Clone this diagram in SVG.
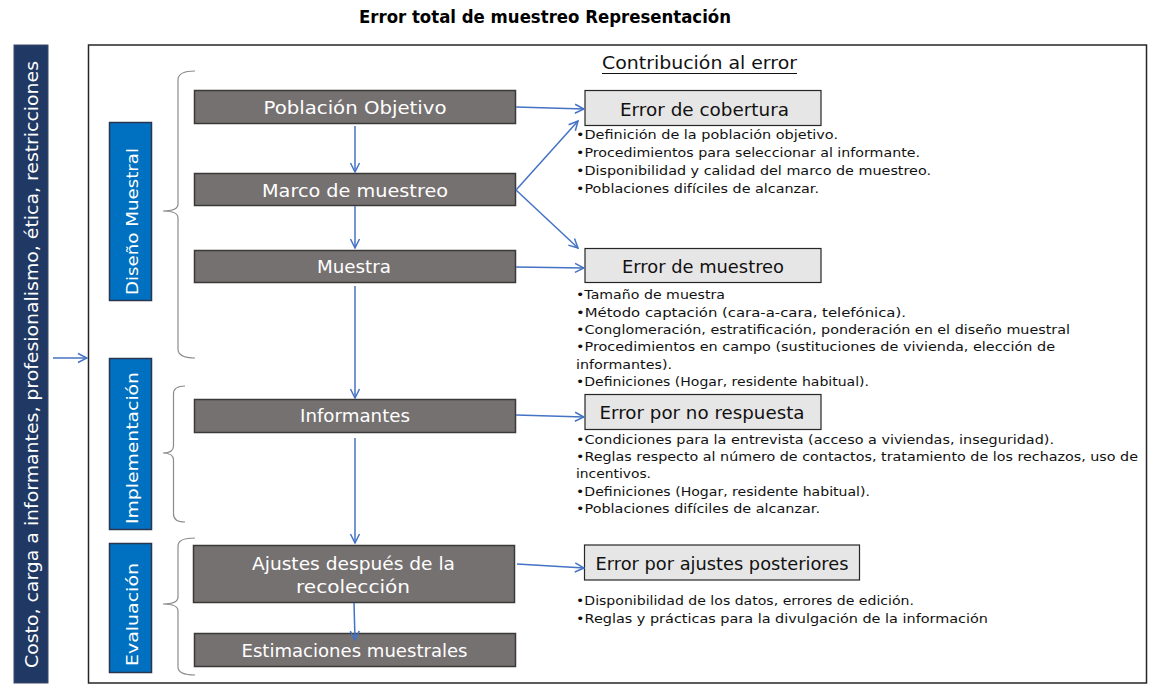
<svg xmlns="http://www.w3.org/2000/svg" width="1157" height="695" viewBox="0 0 1157 695">
<style>
.t{font-family:"DejaVu Sans","Liberation Sans",sans-serif}
.node rect{fill:#767171;stroke:#3b3838;stroke-width:1.5}
.node text{fill:#ffffff;font-size:18px;text-anchor:middle}
.err rect{fill:#e7e6e6;stroke:#262626;stroke-width:1.2}
.err text{fill:#111111;font-size:18px;text-anchor:middle}
.phase rect{fill:#0070c0;stroke:#2a3550;stroke-width:1.5}
.phase text{fill:#ffffff;font-size:16px}
.bl{fill:#111111;font-size:12.5px}
.brace{fill:none;stroke:#8c8c8c;stroke-width:1.2}
.conn path{fill:none;stroke:#4472c4;stroke-width:1.5;marker-end:url(#ah)}
</style>
<defs>
<marker id="ah" markerUnits="userSpaceOnUse" markerWidth="12" markerHeight="12" viewBox="0 0 12 12" refX="11" refY="6" orient="auto">
<path d="M2,1.5 L11,6 L2,10.5" fill="none" stroke="#4472c4" stroke-width="1.5"/>
</marker>
</defs>
<rect x="0" y="0" width="1157" height="695" fill="#ffffff"/>
<text class="t" x="545" y="23" font-size="17" font-weight="bold" text-anchor="middle" fill="#000" textLength="372" lengthAdjust="spacingAndGlyphs">Error total de muestreo Representación</text>

<g id="restricciones">
<rect x="14" y="45" width="34" height="638" fill="#203864" stroke="#3a4a6a" stroke-width="1"/>
<text class="t" transform="translate(38,668) rotate(-90)" x="0" y="0" font-size="18" fill="#ffffff" textLength="607" lengthAdjust="spacingAndGlyphs">Costo, carga a informantes, profesionalismo, ética, restricciones</text>
</g>

<rect id="marco-general" x="88.5" y="45" width="1058" height="638" fill="#ffffff" stroke="#262626" stroke-width="1.5"/>

<g id="contribucion">
<text class="t" x="602" y="69" font-size="17" fill="#111" textLength="195" lengthAdjust="spacingAndGlyphs">Contribución al error</text>
<line x1="602" y1="73.5" x2="797" y2="73.5" stroke="#111" stroke-width="1"/>
</g>

<g id="fase-diseno" class="phase">
<rect x="109.5" y="122.5" width="42" height="178"/>
<text class="t" transform="translate(138,295) rotate(-90)" textLength="147" lengthAdjust="spacingAndGlyphs">Diseño Muestral</text>
</g>
<g id="fase-implementacion" class="phase">
<rect x="109.5" y="358.5" width="42" height="171"/>
<text class="t" transform="translate(138,524) rotate(-90)" textLength="152" lengthAdjust="spacingAndGlyphs">Implementación</text>
</g>
<g id="fase-evaluacion" class="phase">
<rect x="109.5" y="543.5" width="42" height="129"/>
<text class="t" transform="translate(138,666) rotate(-90)" textLength="103" lengthAdjust="spacingAndGlyphs">Evaluación</text>
</g>

<g id="llaves">
<path class="brace" d="M195,71 Q178,71 178,80 L178,204 Q178,211 163,211 Q178,211 178,218 L178,349 Q178,358 195,358"/>
<path class="brace" d="M185,386 Q173.5,386 173.5,394 L173.5,446 Q173.5,453 163,453 Q173.5,453 173.5,460 L173.5,514 Q173.5,522 185,522"/>
<path class="brace" d="M195,538 Q178,538 178,546 L178,597 Q178,604 163,604 Q178,604 178,611 L178,667 Q178,675 195,675"/>
</g>

<g id="poblacion-objetivo" class="node">
<rect x="194.5" y="90.5" width="321" height="33"/>
<text class="t" x="355" y="114" textLength="183" lengthAdjust="spacingAndGlyphs">Población Objetivo</text>
</g>
<g id="marco-muestreo" class="node">
<rect x="194.5" y="173.5" width="321" height="32"/>
<text class="t" x="355" y="197" textLength="186" lengthAdjust="spacingAndGlyphs">Marco de muestreo</text>
</g>
<g id="muestra" class="node">
<rect x="194.5" y="250.5" width="321" height="32"/>
<text class="t" x="354" y="273" textLength="74" lengthAdjust="spacingAndGlyphs">Muestra</text>
</g>
<g id="informantes" class="node">
<rect x="194.5" y="399.5" width="321" height="33"/>
<text class="t" x="355" y="422" textLength="110" lengthAdjust="spacingAndGlyphs">Informantes</text>
</g>
<g id="ajustes" class="node">
<rect x="193.5" y="545.5" width="321" height="57"/>
<text class="t" x="353.5" y="570" textLength="203" lengthAdjust="spacingAndGlyphs">Ajustes después de la</text>
<text class="t" x="353" y="593" textLength="114" lengthAdjust="spacingAndGlyphs">recolección</text>
</g>
<g id="estimaciones" class="node">
<rect x="194.5" y="633.5" width="321" height="33"/>
<text class="t" x="354.5" y="657" textLength="226" lengthAdjust="spacingAndGlyphs">Estimaciones muestrales</text>
</g>

<g id="error-cobertura" class="err">
<rect x="585" y="90.5" width="236" height="35"/>
<text class="t" x="704.5" y="116" textLength="169" lengthAdjust="spacingAndGlyphs">Error de cobertura</text>
</g>
<g id="error-muestreo" class="err">
<rect x="585" y="248.5" width="236" height="34"/>
<text class="t" x="703" y="273" textLength="162" lengthAdjust="spacingAndGlyphs">Error de muestreo</text>
</g>
<g id="error-no-respuesta" class="err">
<rect x="585" y="394.5" width="236" height="35"/>
<text class="t" x="702" y="419" textLength="205" lengthAdjust="spacingAndGlyphs">Error por no respuesta</text>
</g>
<g id="error-ajustes" class="err">
<rect x="584.5" y="545" width="275" height="35"/>
<text class="t" x="722" y="570" textLength="253" lengthAdjust="spacingAndGlyphs">Error por ajustes posteriores</text>
</g>

<g id="notas">
<text class="t bl" x="576" y="139" textLength="262" lengthAdjust="spacingAndGlyphs">•Definición de la población objetivo.</text>
<text class="t bl" x="576" y="157" textLength="344" lengthAdjust="spacingAndGlyphs">•Procedimientos para seleccionar al informante.</text>
<text class="t bl" x="576" y="175" textLength="355" lengthAdjust="spacingAndGlyphs">•Disponibilidad y calidad del marco de muestreo.</text>
<text class="t bl" x="576" y="193" textLength="243" lengthAdjust="spacingAndGlyphs">•Poblaciones difíciles de alcanzar.</text>

<text class="t bl" x="576" y="298.5" textLength="149" lengthAdjust="spacingAndGlyphs">•Tamaño de muestra</text>
<text class="t bl" x="576" y="316.5" textLength="330" lengthAdjust="spacingAndGlyphs">•Método captación (cara-a-cara, telefónica).</text>
<text class="t bl" x="576" y="333.5" textLength="494" lengthAdjust="spacingAndGlyphs">•Conglomeración, estratificación, ponderación en el diseño muestral</text>
<text class="t bl" x="576" y="351" textLength="479" lengthAdjust="spacingAndGlyphs">•Procedimientos en campo (sustituciones de vivienda, elección de</text>
<text class="t bl" x="576" y="368.5" textLength="96" lengthAdjust="spacingAndGlyphs">informantes).</text>
<text class="t bl" x="576" y="386" textLength="293" lengthAdjust="spacingAndGlyphs">•Definiciones (Hogar, residente habitual).</text>

<text class="t bl" x="576" y="444" textLength="478" lengthAdjust="spacingAndGlyphs">•Condiciones para la entrevista (acceso a viviendas, inseguridad).</text>
<text class="t bl" x="576" y="461" textLength="562" lengthAdjust="spacingAndGlyphs">•Reglas respecto al número de contactos, tratamiento de los rechazos, uso de</text>
<text class="t bl" x="576" y="478" textLength="75" lengthAdjust="spacingAndGlyphs">incentivos.</text>
<text class="t bl" x="576" y="495.5" textLength="294" lengthAdjust="spacingAndGlyphs">•Definiciones (Hogar, residente habitual).</text>
<text class="t bl" x="576" y="513" textLength="244" lengthAdjust="spacingAndGlyphs">•Poblaciones difíciles de alcanzar.</text>

<text class="t bl" x="576" y="605" textLength="338" lengthAdjust="spacingAndGlyphs">•Disponibilidad de los datos, errores de edición.</text>
<text class="t bl" x="576" y="622.5" textLength="412" lengthAdjust="spacingAndGlyphs">•Reglas y prácticas para la divulgación de la información</text>
</g>

<g id="conectores" class="conn">
<path d="M53,358 L87,358"/>
<path d="M355,126 L355,172"/>
<path d="M355,206 L355,248"/>
<path d="M355,286 L355,398"/>
<path d="M355,438 L355,543"/>
<path d="M354,603 L355,640"/>
<path d="M516,107 L584,109"/>
<path d="M516,190 L578,121"/>
<path d="M516,190 L578,248"/>
<path d="M516,267 L584,268"/>
<path d="M516,415 L584,417"/>
<path d="M517,564 L584,568"/>
</g>
</svg>
